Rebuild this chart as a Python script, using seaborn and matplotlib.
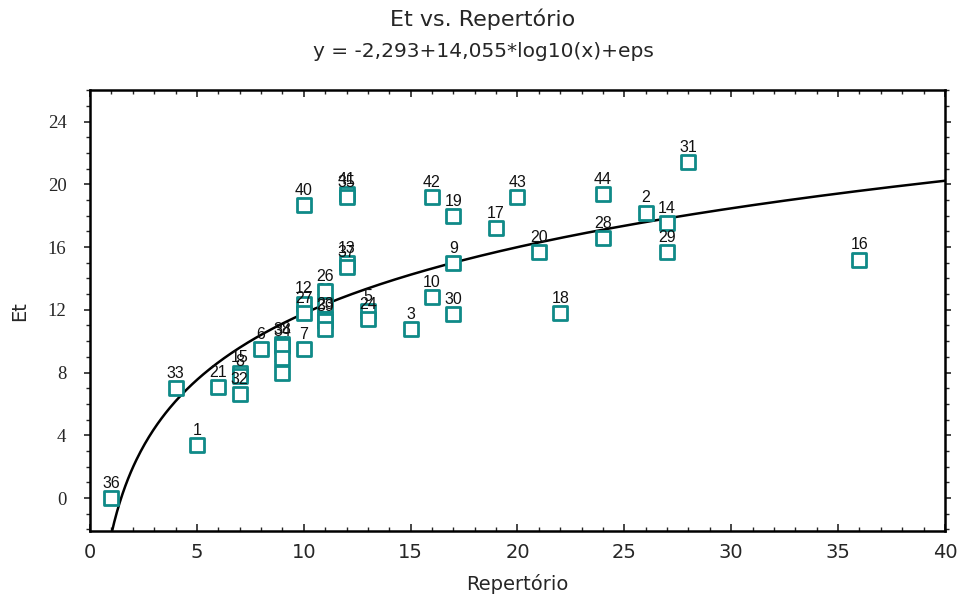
import numpy as np
import pandas as pd
import matplotlib
matplotlib.use("Agg")
import matplotlib.pyplot as plt
import seaborn as sns
from matplotlib.ticker import MultipleLocator

# Data (Repertório, Et, case id)
ids = [36, 33, 1, 21, 15, 8, 32, 6, 38, 34, 11, 25, 7, 12, 27, 40,
       26, 22, 23, 39, 4, 41, 35, 13, 37, 5, 24, 3, 42, 10, 19, 9, 30,
       17, 43, 20, 18, 44, 28, 2, 14, 29, 31, 16]
repertorio = [1, 4, 5, 6, 7, 7, 7, 8, 9, 9, 9, 9, 10, 10, 10, 10,
              11, 11, 11, 11, 11, 12, 12, 12, 12, 13, 13, 15, 16, 16, 17, 17, 17,
              19, 20, 21, 22, 24, 24, 26, 27, 27, 28, 36]
et = [0.0, 7.0, 3.4, 7.1, 8.0, 7.8, 6.6, 9.5, 9.8, 9.7, 8.9, 8.0, 9.5, 12.4, 11.8, 18.7,
      13.2, 12.3, 11.4, 11.3, 10.8, 19.4, 19.2, 15.0, 14.7, 11.9, 11.4, 10.8, 19.2, 12.8, 18.0, 15.0, 11.7,
      17.2, 19.2, 15.7, 11.8, 19.4, 16.6, 18.2, 17.5, 15.7, 21.4, 15.2]
# labels that are covered by neighbouring markers in the reference
covered_ids = [11, 25, 22, 4]

intercept = -2.293
slope = 14.055

sns.set_style("white")
plt.rcParams['font.family'] = ['DejaVu Sans']

fig = plt.figure(figsize=(9.66, 6.01), dpi=100)
ax = fig.add_axes([0.0932, 0.1165, 0.8850, 0.7335])

df = pd.DataFrame({"Repertório": repertorio, "Et": et, "id": ids})

xc = np.linspace(1.0, 40, 600)
curve = pd.DataFrame({"x": xc, "y": intercept + slope * np.log10(xc)})
sns.lineplot(data=curve, x="x", y="y", color="black", linewidth=1.8, ax=ax, zorder=1)

sns.scatterplot(data=df, x="Repertório", y="Et", marker="s", s=110,
                facecolor="white", edgecolor="#0f8a88", linewidth=2.0, ax=ax, zorder=3)

for i, xv, yv in zip(ids, repertorio, et):
    ax.annotate(str(i), (xv, yv), xytext=(0, 10.5),
                textcoords="offset points", ha="center", va="center",
                fontsize=11.5, family="Liberation Sans", color="#111111",
                zorder=2 if i in covered_ids else 4)

ax.set_xlim(0, 40)
ax.set_ylim(-2.1, 26.0)
ax.xaxis.set_major_locator(MultipleLocator(5))
ax.xaxis.set_minor_locator(MultipleLocator(1))
ax.yaxis.set_minor_locator(MultipleLocator(1))
ax.set_yticks([0, 4, 8, 12, 16, 20, 24])

ax.tick_params(axis="x", which="both", direction="in", top=True, bottom=True,
               labelsize=14, pad=9)
ax.tick_params(axis="x", which="major", length=5, width=1.2)
ax.tick_params(axis="x", which="minor", length=3, width=1.0)
ax.tick_params(axis="y", which="both", direction="out", left=True, right=True)
ax.tick_params(axis="y", which="major", length=4, width=1.2, labelsize=13.5, pad=13)
ax.tick_params(axis="y", which="minor", length=3, width=1.0)
for lab in ax.get_yticklabels():
    lab.set_family("Liberation Serif")

for sp in ax.spines.values():
    sp.set_linewidth(1.8)
    sp.set_color("black")

ax.set_xlabel("Repertório", fontsize=14, labelpad=8)
ax.set_ylabel("Et", fontsize=14, labelpad=13)

fig.text(0.5, 0.968, "Et vs. Repertório", ha="center", va="center", fontsize=16)
fig.text(0.5, 0.915, "y = -2,293+14,055*log10(x)+eps", ha="center", va="center", fontsize=14.5)

fig.savefig("out.png", dpi=100)
